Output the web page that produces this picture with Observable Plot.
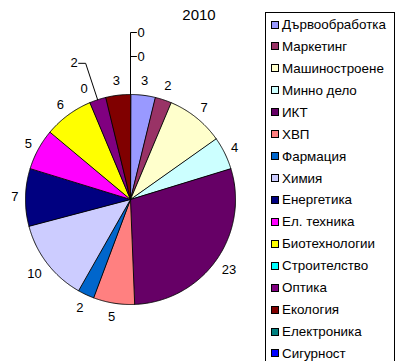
<!DOCTYPE html>
<html><head><meta charset="utf-8">
<script src="https://cdn.jsdelivr.net/npm/d3@7"></script>
<script src="https://cdn.jsdelivr.net/npm/@observablehq/plot@0.6"></script>
<style>
body{margin:0;background:#fff;font-family:"Liberation Sans",Arial,sans-serif;}
#wrap{position:relative;width:397px;height:361px;overflow:hidden;}
#wrap svg{position:absolute;left:0;top:0;}
#legend{position:absolute;left:265px;top:12px;width:130px;height:380px;border:1px solid #000;box-sizing:border-box;background:#fff;}
.item{position:absolute;left:0;height:22px;display:flex;align-items:center;font-size:13.4px;white-space:nowrap;color:#000;}
.key{width:8px;height:8px;box-sizing:border-box;border:1px solid #000;margin-left:5px;margin-right:3px;flex:none;}
</style></head><body><div id="wrap"></div>
<script>
const title = "2010";
const categories = ["Дървообработка","Маркетинг","Машиностроене","Минно дело","ИКТ","ХВП","Фармация","Химия","Енергетика","Ел. техника","Биотехнологии","Строителство","Оптика","Екология","Електроника","Сигурност"];
const values = [3,2,7,4,23,5,2,10,7,5,6,0,2,3,0,0];
const colors = ["#9999FF","#993366","#FFFFCC","#CCFFFF","#660066","#FF8080","#0066CC","#CCCCFF","#000080","#FF00FF","#FFFF00","#00FFFF","#800080","#800000","#008080","#0000FF"];

const W = 397, H = 361, CX = 130, CY = 199, R = 105;
const FONT = "Liberation Sans, Arial, sans-serif";
const data = categories.map((name, i) => ({name, value: values[i], color: colors[i], i}));
const arcs = d3.pie().sort(null).value(d => d.value).startAngle(0).endAngle(2 * Math.PI)(data);

// slice polygons in unit-circle coordinates
const slicePts = [];
arcs.forEach(a => {
  const span = a.endAngle - a.startAngle;
  if (span <= 0) return;
  const n = Math.max(2, Math.ceil(span / 0.01));
  slicePts.push({id: a.data.i, x: 0, y: 0});
  for (let k = 0; k <= n; k++) {
    const t = a.startAngle + span * k / n;
    slicePts.push({id: a.data.i, x: Math.sin(t), y: Math.cos(t)});
  }
});

// label layout (pixel space), pushed outward on collision
const GAP = 7, DIGIT = 7.2, HH = 7, STEP = 12, PADX = 8, PADY = 20;
const placed = [];
const labels = [];
const leaders = [];
arcs.forEach(a => {
  const m = (a.startAngle + a.endAngle) / 2;
  const txt = String(a.data.value);
  const w = txt.length * DIGIT;
  const s = Math.sin(m), c = Math.cos(m);
  const as = Math.abs(s), ac = Math.abs(c);
  let d = R + GAP + Math.min(as > 1e-6 ? (w / 2) / as : Infinity, ac > 1e-6 ? HH / ac : Infinity);
  let moved = false;
  const pos = dd => [CX + dd * s, CY - dd * c];
  const hits = (p) => placed.some(q => Math.abs(q.x - p[0]) < (q.w + w) / 2 + PADX && Math.abs(q.y - p[1]) < PADY);
  let p = pos(d);
  let guard = 0;
  while (hits(p) && guard++ < 50) { d += STEP; p = pos(d); moved = true; }
  placed.push({x: p[0], y: p[1], w});
  const toData = (px, py) => ({x: (px - CX) / R, y: (CY - py) / R});
  if (!moved) {
    labels.push({...toData(p[0], p[1]), text: txt, anchor: "middle"});
  } else {
    const left = s < -1e-6;
    const tick = left ? -7 : 6;
    const e = pos(R);
    const id = a.data.i;
    leaders.push({id, ...toData(e[0], e[1])});
    leaders.push({id, ...toData(p[0], p[1])});
    leaders.push({id, ...toData(p[0] + tick, p[1])});
    labels.push({...toData(p[0] + tick + (left ? -1 : 1), p[1]), text: txt, anchor: left ? "end" : "start"});
  }
});

const sliceMarks = data.filter(d => d.value > 0).map(d =>
  Plot.line(slicePts.filter(p => p.id === d.i), {x: "x", y: "y", fill: d.color, stroke: "#000", strokeWidth: 0.9, curve: "linear-closed"})
);

const textOpts = {x: "x", y: "y", text: "text", fontSize: 13, fontFamily: FONT, fill: "#000", lineAnchor: "middle"};
const chart = Plot.plot({
  width: W, height: H,
  marginTop: 0, marginRight: 0, marginBottom: 0, marginLeft: 0,
  x: {domain: [-CX / R, (W - CX) / R], axis: null},
  y: {domain: [-(H - CY) / R, CY / R], axis: null},
  style: {fontFamily: FONT, background: "transparent"},
  marks: [
    ...sliceMarks,
    Plot.line(leaders, {x: "x", y: "y", z: "id", stroke: "#000", strokeWidth: 1}),
    Plot.text(labels.filter(l => l.anchor === "middle"), {...textOpts, textAnchor: "middle"}),
    Plot.text(labels.filter(l => l.anchor === "start"), {...textOpts, textAnchor: "start"}),
    Plot.text(labels.filter(l => l.anchor === "end"), {...textOpts, textAnchor: "end"}),
    Plot.text([title], {text: d => d, frameAnchor: "top", dy: 15, lineAnchor: "middle", fontSize: 15, fontFamily: FONT, fill: "#000"})
  ]
});

const wrap = document.getElementById("wrap");
wrap.appendChild(chart);

// legend
const legend = document.createElement("div");
legend.id = "legend";
const ROW0 = 11.5, ROWSTEP = 21.93;
data.forEach((d, i) => {
  const row = document.createElement("div");
  row.className = "item";
  row.style.top = (ROW0 + ROWSTEP * i - 11) + "px";
  const key = document.createElement("span");
  key.className = "key";
  key.style.background = d.color;
  const lab = document.createElement("span");
  lab.textContent = d.name;
  row.appendChild(key);
  row.appendChild(lab);
  legend.appendChild(row);
});
wrap.appendChild(legend);
</script>
</body></html>
